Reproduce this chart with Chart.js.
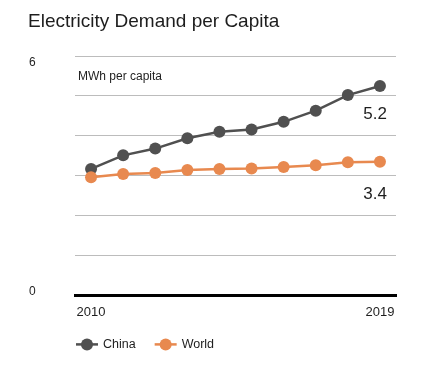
<!DOCTYPE html>
<html lang="en">
<head>
    <meta charset="UTF-8">
    <title>Electricity Demand per Capita</title>
    <script src="https://cdn.jsdelivr.net/npm/chart.js"></script>
    <style>
        html, body { margin: 0; padding: 0; background: #fff; }
        #wrap { width: 424px; height: 389px; }
    </style>
</head>
<body>
    <div id="wrap"><canvas id="demandChart" width="424" height="389"></canvas></div>

    <script>
        // data
        const years = ['2010', '2011', '2012', '2013', '2014', '2015', '2016', '2017', '2018', '2019'];
        const chinaValues = [3.17, 3.51, 3.68, 3.94, 4.10, 4.16, 4.35, 4.63, 5.02, 5.25];
        const worldValues = [2.96, 3.04, 3.07, 3.14, 3.17, 3.18, 3.22, 3.26, 3.34, 3.35];
        const seriesNames = ['China', 'World'];
        const seriesColors = ['#505050', '#e8894f'];
        const endLabels = ['5.2', '3.4'];
        const xTickLabels = ['2010', '2019'];
        const yTickLabels = [0, 6];
        const unitLabel = 'MWh per capita';
        const chartTitle = 'Electricity Demand per Capita';

        const REGULAR = '"Liberation Sans", Arial, sans-serif';
        const TEXT = '#1e1e1e';

        // extra text: unit label, y labels, end values, legend
        const extrasPlugin = {
            id: 'extras',
            afterDatasetsDraw(chart) {
                const ctx = chart.ctx;
                const area = chart.chartArea;
                const y = chart.scales.y;
                ctx.save();
                ctx.fillStyle = TEXT;

                // y labels, only 0 and 6, left of the plot
                ctx.font = '12px ' + REGULAR;
                ctx.textAlign = 'left';
                yTickLabels.forEach(v => {
                    const py = y.getPixelForValue(v);
                    ctx.textBaseline = v === y.max ? 'top' : 'alphabetic';
                    ctx.fillText(String(v), 29, py + (v === y.max ? 1 : 0));
                });

                // unit label
                ctx.font = '12px ' + REGULAR;
                ctx.textBaseline = 'middle';
                ctx.fillText(unitLabel, area.left + 3, area.top + 21);

                // last values under the line ends
                ctx.font = '17px ' + REGULAR;
                ctx.textAlign = 'right';
                const offsets = [28, 33];
                chart.data.datasets.forEach((ds, i) => {
                    const pts = chart.getDatasetMeta(i).data;
                    const last = pts[pts.length - 1];
                    ctx.fillText(endLabels[i], last.x + 7, last.y + offsets[i]);
                });

                // legend with line + dot
                ctx.font = '12.5px ' + REGULAR;
                ctx.textAlign = 'left';
                ctx.textBaseline = 'middle';
                const ly = area.bottom + 49;
                let lx = area.left + 1;
                chart.data.datasets.forEach(ds => {
                    ctx.strokeStyle = ds.borderColor;
                    ctx.lineWidth = 2.5;
                    ctx.beginPath();
                    ctx.moveTo(lx, ly);
                    ctx.lineTo(lx + 22, ly);
                    ctx.stroke();
                    ctx.fillStyle = ds.borderColor;
                    ctx.beginPath();
                    ctx.arc(lx + 11, ly, 6, 0, Math.PI * 2);
                    ctx.fill();
                    ctx.fillStyle = TEXT;
                    ctx.fillText(ds.label, lx + 27, ly);
                    lx += 27 + ctx.measureText(ds.label).width + 19;
                });
                ctx.restore();
            }
        };

        const ctx = document.getElementById('demandChart').getContext('2d');
        new Chart(ctx, {
            type: 'line',
            data: {
                labels: years,
                datasets: [
                    {
                        label: seriesNames[0],
                        data: chinaValues,
                        borderColor: seriesColors[0],
                        backgroundColor: seriesColors[0],
                        pointBackgroundColor: seriesColors[0],
                        borderWidth: 2.5,
                        pointRadius: 6,
                        pointBorderWidth: 0,
                        tension: 0,
                        order: 1
                    },
                    {
                        label: seriesNames[1],
                        data: worldValues,
                        borderColor: seriesColors[1],
                        backgroundColor: seriesColors[1],
                        pointBackgroundColor: seriesColors[1],
                        borderWidth: 2.5,
                        pointRadius: 6,
                        pointBorderWidth: 0,
                        tension: 0,
                        order: 0
                    }
                ]
            },
            options: {
                responsive: false,
                animation: false,
                devicePixelRatio: 1,
                layout: { padding: { left: 28, right: 28, top: 0, bottom: 68 } },
                plugins: {
                    legend: { display: false },
                    tooltip: { enabled: false },
                    title: {
                        display: true,
                        text: chartTitle,
                        align: 'start',
                        color: '#1d1d1d',
                        font: { family: REGULAR, size: 19, weight: 'normal', lineHeight: 1.2 },
                        padding: { top: 10, bottom: 23.2 }
                    }
                },
                scales: {
                    x: {
                        offset: true,
                        grid: { display: false },
                        border: { display: true, color: '#000', width: 3 },
                        ticks: {
                            color: TEXT,
                            font: { family: REGULAR, size: 13, lineHeight: 1.2 },
                            padding: 1,
                            maxRotation: 0,
                            autoSkip: false,
                            callback: function (val) {
                                const lab = this.getLabelForValue(val);
                                return xTickLabels.includes(lab) ? lab : '';
                            }
                        }
                    },
                    y: {
                        min: 0,
                        max: 6,
                        ticks: { stepSize: 1, display: false },
                        grid: { color: '#bcbcbc', lineWidth: 1, drawTicks: false },
                        border: { display: false },
                        afterFit(scale) { scale.width = 47; }
                    }
                }
            },
            plugins: [extrasPlugin]
        });
    </script>
</body>
</html>
